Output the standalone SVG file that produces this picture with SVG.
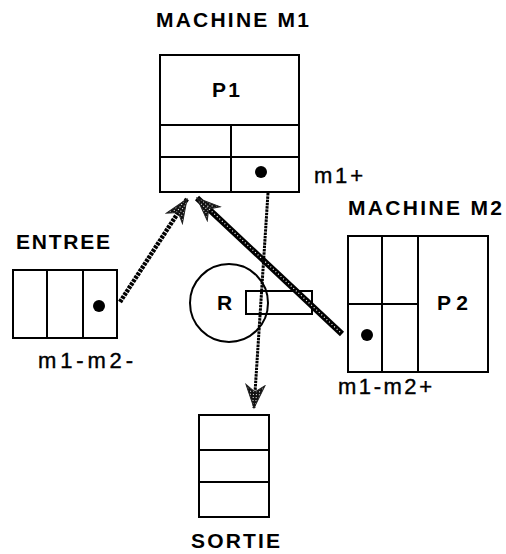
<svg xmlns="http://www.w3.org/2000/svg" width="506" height="554" viewBox="0 0 506 554">
  <defs>
    <!-- dark stipple used for arrowheads -->
    <pattern id="stip" width="3" height="3" patternUnits="userSpaceOnUse">
      <rect width="3" height="3" fill="#111"/>
      <rect x="1" y="1" width="1" height="1" fill="#fff"/>
    </pattern>
    <marker id="head" markerUnits="userSpaceOnUse" markerWidth="26" markerHeight="22" viewBox="-24 -11 26 22" refX="0" refY="0" orient="auto">
      <path d="M0,0 L-23,-9.5 L-16,0 L-23,9.5 Z" fill="url(#stip)" stroke="#222" stroke-width="1"/>
    </marker>
    <style>
      .box { fill: #fff; stroke: #000; stroke-width: 2; }
      .ln { stroke: #000; stroke-width: 2; fill: none; }
      .dot { fill: #000; }
      .lbl { font-family: "Liberation Sans", Arial, sans-serif; font-weight: bold; font-size: 21px; fill: #000; }
      .tag { font-family: "Liberation Sans", Arial, sans-serif; font-size: 22px; fill: #000; stroke: #000; stroke-width: 0.4; }
    </style>
  </defs>

  <!-- MACHINE M1 -->
  <g id="m1">
    <text class="lbl" x="156" y="27" textLength="153" lengthAdjust="spacing">MACHINE M1</text>
    <rect class="box" x="160" y="55" width="139" height="137"/>
    <line class="ln" x1="160" y1="125" x2="299" y2="125"/>
    <line class="ln" x1="160" y1="157" x2="299" y2="157"/>
    <line class="ln" x1="231" y1="125" x2="231" y2="192"/>
    <circle class="dot" cx="261" cy="172" r="6"/>
    <text class="lbl" x="212" y="97" textLength="28" lengthAdjust="spacing">P1</text>
    <text class="tag" x="314" y="183" textLength="49" lengthAdjust="spacing">m1+</text>
  </g>

  <!-- ENTREE -->
  <g id="entree">
    <text class="lbl" x="16" y="249" textLength="94" lengthAdjust="spacing">ENTREE</text>
    <rect class="box" x="13" y="270" width="104" height="68"/>
    <line class="ln" x1="47" y1="270" x2="47" y2="338"/>
    <line class="ln" x1="83" y1="270" x2="83" y2="338"/>
    <circle class="dot" cx="99" cy="306" r="6"/>
    <text class="tag" x="38" y="368" textLength="95" lengthAdjust="spacing">m1-m2-</text>
  </g>

  <!-- ressource R -->
  <g id="r">
    <circle class="ln" cx="229" cy="303" r="39"/>
    <text class="lbl" x="217" y="310">R</text>
    <rect class="ln" x="246" y="291" width="66" height="23"/>
  </g>

  <!-- MACHINE M2 -->
  <g id="m2">
    <text class="lbl" x="348" y="215" textLength="154" lengthAdjust="spacing">MACHINE M2</text>
    <rect class="box" x="348" y="236" width="140" height="136"/>
    <line class="ln" x1="382" y1="236" x2="382" y2="372"/>
    <line class="ln" x1="418" y1="236" x2="418" y2="372"/>
    <line class="ln" x1="348" y1="304" x2="418" y2="304"/>
    <circle class="dot" cx="367" cy="335" r="6"/>
    <text class="lbl" x="437" y="310" textLength="31" lengthAdjust="spacing">P2</text>
    <text class="tag" x="338" y="394" textLength="94" lengthAdjust="spacing">m1-m2+</text>
  </g>

  <!-- SORTIE -->
  <g id="sortie">
    <rect class="box" x="199" y="415" width="70" height="102"/>
    <line class="ln" x1="199" y1="450" x2="269" y2="450"/>
    <line class="ln" x1="199" y1="482" x2="269" y2="482"/>
    <text class="lbl" x="191" y="548" textLength="89" lengthAdjust="spacing">SORTIE</text>
  </g>

  <!-- connectors -->
  <g id="connectors">
    <!-- ENTREE to M1 -->
    <line x1="120" y1="302" x2="187" y2="199" stroke="#000" stroke-width="4.5" stroke-dasharray="3 1" marker-end="url(#head)"/>
    <!-- M2 to M1 -->
    <line x1="342" y1="334" x2="197" y2="198" stroke="#000" stroke-width="6" marker-end="url(#head)"/>
    <line x1="340" y1="332" x2="207" y2="207" stroke="#fff" stroke-width="1.2" stroke-dasharray="1 2.5"/>
    <!-- M1 to SORTIE -->
    <line x1="268" y1="193" x2="254" y2="408" stroke="#000" stroke-width="3" stroke-dasharray="2.5 0.8" marker-end="url(#head)"/>
  </g>
</svg>
